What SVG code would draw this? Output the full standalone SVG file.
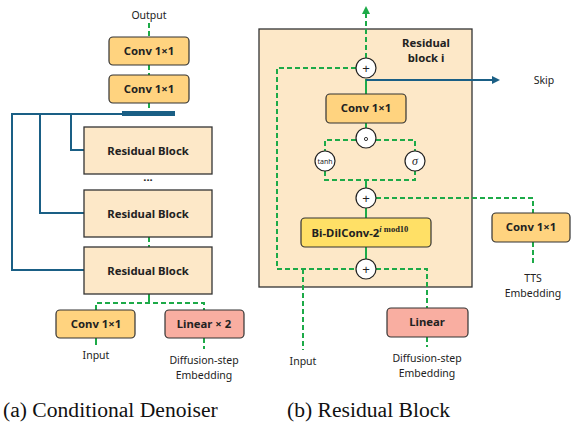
<svg xmlns="http://www.w3.org/2000/svg" width="571" height="424" viewBox="0 0 571 424">
<defs>
<style>
.t{font-family:"Noto Sans","Liberation Sans",sans-serif;font-size:10.5px;fill:#222;text-anchor:middle}
.b{font-family:"Noto Sans","Liberation Sans",sans-serif;font-size:11.3px;font-weight:bold;fill:#222;text-anchor:middle}
.p{font-family:"Liberation Sans",sans-serif;font-size:13px;fill:#222;text-anchor:middle}
.cap{font-family:"Liberation Serif",serif;font-size:21.6px;fill:#111}
.conv{fill:#FFD37F;stroke:#333;stroke-width:1.2}
.lin{fill:#F9AEA1;stroke:#333;stroke-width:1.2}
.dil{fill:#FFE066;stroke:#333;stroke-width:1.2}
.res{fill:#FDE8C8;stroke:#333;stroke-width:1.3}
.g{fill:none;stroke:#1DAA48;stroke-width:2}
.gd{fill:none;stroke:#1DAA48;stroke-width:2;stroke-dasharray:5,3}
.bl{fill:none;stroke:#1A5F85;stroke-width:2}
.op{fill:#fff;stroke:#222;stroke-width:1.2}
</style>
<marker id="ag" viewBox="0 0 10 10" refX="5" refY="5" markerWidth="4" markerHeight="4" orient="auto"><path d="M0,0 L10,5 L0,10 z" fill="#1DAA48"/></marker>
<marker id="ab" viewBox="0 0 10 10" refX="5" refY="5" markerWidth="4" markerHeight="4" orient="auto"><path d="M0,0 L10,5 L0,10 z" fill="#1A5F85"/></marker>
</defs>
<rect width="571" height="424" fill="#fff"/>

<g id="panel-b-bg">
<rect class="res" x="259" y="29" width="213" height="258"/>
</g>

<g id="connectors">
<!-- left panel -->
<path class="gd" d="M149,23 V37"/>
<path class="gd" d="M149,65 V75"/>
<path class="gd" d="M149,103 V111"/>
<path class="bl" d="M122,114 H12 V270 H84"/>
<path class="bl" d="M40,114 V213 H84"/>
<path class="bl" d="M71,114 V150 H84"/>
<path class="gd" d="M149,237 V247"/>
<path class="g" d="M149,294 V303"/>
<path class="gd" d="M96,310 V303 H204 V310"/>
<path class="g" d="M96,338 V345"/>
<path class="gd" d="M204,338 V349"/>
<!-- right panel -->
<path class="gd" d="M366,58 V10" marker-end="url(#ag)"/>
<path class="gd" d="M356,68 H277 V269 H356"/>
<path class="g" d="M366,79 V94"/>
<path class="bl" d="M366,80 H496" marker-end="url(#ab)"/>
<path class="g" d="M366,123 V128"/>
<path class="gd" d="M356,140 H325 V151"/>
<path class="gd" d="M376,140 H415 V151"/>
<path class="gd" d="M325,171 V180 H415 V171"/>
<path class="g" d="M366,180 V188"/>
<path class="gd" d="M376,198 H533 V213"/>
<path class="gd" d="M533,242 V265"/>
<path class="g" d="M366,208 V218"/>
<path class="g" d="M366,247 V259"/>
<path class="gd" d="M376,269 H427 V308"/>
<path class="gd" d="M303,269 V350"/>
<path class="gd" d="M427,337 V347"/>
</g>

<g id="label-output"><text class="t" x="149" y="19">Output</text></g>
<g id="conv-top"><rect class="conv" x="109" y="37" width="80" height="28" rx="4"/><text class="b" x="149" y="55">Conv 1×1</text></g>
<g id="conv-2"><rect class="conv" x="109" y="75" width="80" height="28" rx="4"/><text class="b" x="149" y="93">Conv 1×1</text></g>
<g id="skip-bar"><rect x="122" y="111" width="53" height="5" fill="#1A5F85"/></g>
<g id="res-1"><rect class="res" x="84" y="127" width="128" height="47"/><text class="b" x="148" y="155">Residual Block</text></g>
<g id="dots"><text class="b" x="148" y="184">···</text></g>
<g id="res-2"><rect class="res" x="84" y="190" width="128" height="47"/><text class="b" x="148" y="218">Residual Block</text></g>
<g id="res-3"><rect class="res" x="84" y="247" width="128" height="47"/><text class="b" x="148" y="275">Residual Block</text></g>
<g id="conv-in"><rect class="conv" x="56" y="310" width="79" height="28" rx="4"/><text class="b" x="96" y="328">Conv 1×1</text></g>
<g id="linear2"><rect class="lin" x="165" y="310" width="79" height="28" rx="4"/><text class="b" x="204" y="328">Linear × 2</text></g>
<g id="label-input-a"><text class="t" x="96" y="359">Input</text></g>
<g id="label-diff-a"><text class="t" x="204" y="364">Diffusion-step</text><text class="t" x="204" y="379">Embedding</text></g>

<g id="label-resblock-i"><text class="b" x="426" y="47">Residual</text><text class="b" x="426" y="62">block i</text></g>
<g id="plus-top"><circle class="op" cx="366" cy="68" r="10"/><text class="p" x="366" y="72.5">+</text></g>
<g id="label-skip"><text class="t" x="544" y="84">Skip</text></g>
<g id="conv-b"><rect class="conv" x="326" y="94" width="80" height="29" rx="4"/><text class="b" x="366" y="112">Conv 1×1</text></g>
<g id="mul"><circle class="op" cx="366" cy="138" r="10"/><circle cx="366" cy="139" r="1.6" fill="none" stroke="#222" stroke-width="0.9"/></g>
<g id="tanh"><circle class="op" cx="325" cy="161" r="10"/><text class="t" x="325" y="163.5" style="font-size:7px">tanh</text></g>
<g id="sigma"><circle class="op" cx="415" cy="161" r="10"/><text x="415" y="165" style="font-family:'Liberation Serif',serif;font-style:italic;font-size:12px;text-anchor:middle;fill:#222">σ</text></g>
<g id="plus-mid"><circle class="op" cx="366" cy="198" r="10"/><text class="p" x="366" y="202.5">+</text></g>
<g id="dilconv"><rect class="dil" x="301" y="218" width="130" height="29" rx="4"/><text class="b" x="360" y="237">Bi-DilConv-2<tspan dy="-5" style="font-family:'Liberation Serif',serif;font-size:8.5px"><tspan font-style="italic">i</tspan> mod10</tspan></text></g>
<g id="plus-bot"><circle class="op" cx="366" cy="269" r="10"/><text class="p" x="366" y="273.5">+</text></g>
<g id="conv-tts"><rect class="conv" x="492" y="213" width="78" height="29" rx="4"/><text class="b" x="531" y="231">Conv 1×1</text></g>
<g id="label-tts"><text class="t" x="533" y="282">TTS</text><text class="t" x="533" y="297">Embedding</text></g>
<g id="linear-b"><rect class="lin" x="387" y="308" width="81" height="29" rx="4"/><text class="b" x="427" y="326">Linear</text></g>
<g id="label-input-b"><text class="t" x="303" y="365">Input</text></g>
<g id="label-diff-b"><text class="t" x="427" y="362">Diffusion-step</text><text class="t" x="427" y="377">Embedding</text></g>

<g id="captions">
<text class="cap" x="3" y="417">(a) Conditional Denoiser</text>
<text class="cap" x="287" y="417">(b) Residual Block</text>
</g>
</svg>
